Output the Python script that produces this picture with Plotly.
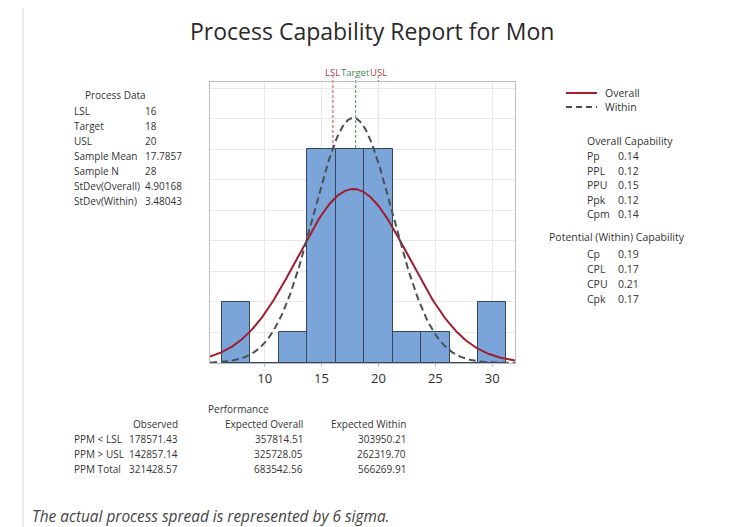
import numpy as np
import plotly.graph_objects as go

# ---------------- data ----------------
bin_centers = [7.5, 10, 12.5, 15, 17.5, 20, 22.5, 25, 27.5, 30]
bin_counts = [2, 0, 1, 7, 7, 7, 1, 1, 0, 2]
bin_width = 2.5

LSL, TARGET, USL = 16, 18, 20
sample_mean = 17.7857
sample_n = 28
sd_overall = 4.90168
sd_within = 3.48043

process_labels = ["LSL", "Target", "USL", "Sample Mean", "Sample N", "StDev(Overall)", "StDev(Within)"]
process_values = ["16", "18", "20", "17.7857", "28", "4.90168", "3.48043"]

overall_cap_labels = ["Pp", "PPL", "PPU", "Ppk", "Cpm"]
overall_cap_values = ["0.14", "0.12", "0.15", "0.12", "0.14"]
within_cap_labels = ["Cp", "CPL", "CPU", "Cpk"]
within_cap_values = ["0.19", "0.17", "0.21", "0.17"]

perf_rows = ["PPM < LSL", "PPM > USL", "PPM Total"]
perf_observed = ["178571.43", "142857.14", "321428.57"]
perf_exp_overall = ["357814.51", "325728.05", "683542.56"]
perf_exp_within = ["303950.21", "262319.70", "566269.91"]

x_ticks = [10, 15, 20, 25, 30]

# ---------------- layout helpers ----------------
OFF = 8  # page body margin
W, H = 729 - OFF, 527 - OFF
FONT = "Open Sans"
TXT = "#333333"
FS = 10
FS_R = 10.5
RED = "#a01d2e"
GREY = "#4a5058"


def px(x):
    return (x - OFF) / W


def py(y):
    return 1 - (y - OFF) / H


annotations = []


def text(x, y, s, anchor="left", size=FS, color=TXT, **kw):
    annotations.append(dict(
        x=px(x), y=py(y), xref="paper", yref="paper", text=s, showarrow=False,
        xanchor=anchor, yanchor="middle", font=dict(family=FONT, size=size, color=color), **kw))


# ---------------- figure ----------------
fig = go.Figure()

fig.add_trace(go.Bar(
    x=bin_centers, y=bin_counts, width=bin_width,
    marker=dict(color="#7ba5d8", line=dict(color="#34465e", width=1)),
    showlegend=False, hoverinfo="skip"))

xs = np.linspace(5.2, 32.0, 300)
scale = sample_n * bin_width


def normal_curve(mu, sd):
    return scale * np.exp(-0.5 * ((xs - mu) / sd) ** 2) / (sd * np.sqrt(2 * np.pi))


fig.add_trace(go.Scatter(
    x=xs, y=normal_curve(sample_mean, sd_overall), mode="lines", name="Overall",
    line=dict(color=RED, width=2), showlegend=False))
fig.add_trace(go.Scatter(
    x=xs, y=normal_curve(sample_mean, sd_within), mode="lines", name="Within",
    line=dict(color=GREY, width=2, dash="7px,4px"), showlegend=False))

# spec lines
for val, col in [(LSL, "#d0443f"), (TARGET, "#3a9a55"), (USL, "#d0443f")]:
    fig.add_shape(type="line", x0=val, x1=val, xref="x", yref="y domain", y0=0, y1=1.02,
                  line=dict(color=col, width=1, dash="3px,2px"), layer="below")

for val, lab, col in [(LSL, "LSL", "#b23a48"), (USL, "USL", "#b23a48"), (TARGET, "Target", "#3a8a50")]:
    annotations.append(dict(x=val, y=1.005, xref="x", yref="y domain", text=lab, showarrow=False,
                            xanchor="center", yanchor="bottom",
                            font=dict(family=FONT, size=9.5, color=col)))

# frame around report
frame_col = "#e4e4e4"
fig.add_shape(type="line", xref="paper", yref="paper", x0=px(23), x1=px(23), y0=0, y1=py(5),
              line=dict(color=frame_col, width=1.5))
fig.add_shape(type="line", xref="paper", yref="paper", x0=px(722), x1=px(722), y0=0, y1=py(5),
              line=dict(color=frame_col, width=1.5))
fig.add_shape(type="line", xref="paper", yref="paper", x0=px(23), x1=px(722), y0=py(5), y1=py(5),
              line=dict(color=frame_col, width=1.5))

# legend (drawn manually for tight spacing)
fig.add_shape(type="line", xref="paper", yref="paper", x0=px(566), x1=px(597), y0=py(93), y1=py(93),
              line=dict(color=RED, width=2))
fig.add_shape(type="line", xref="paper", yref="paper", x0=px(566), x1=px(597), y0=py(107), y1=py(107),
              line=dict(color=GREY, width=2, dash="6px,4px"))
text(603, 93, "Overall", size=FS_R)
text(603, 107, "Within", size=FS_R)

# title
text(372, 31, "Process Capability Report for Mon", anchor="center", size=23, color="#2a2a2a")

# process data
text(116, 95, "Process Data", anchor="center")
for i, (lab, val) in enumerate(zip(process_labels, process_values)):
    y = 111 + i * 15
    text(72, y, lab)
    text(143, y, val)

# capability
text(630, 141, "Overall Capability", anchor="center", size=FS_R)
for i, (lab, val) in enumerate(zip(overall_cap_labels, overall_cap_values)):
    y = 156 + i * 14.6
    text(585, y, lab, size=FS_R)
    text(616, y, val, size=FS_R)
text(617, 237, "Potential (Within) Capability", anchor="center", size=FS_R)
for i, (lab, val) in enumerate(zip(within_cap_labels, within_cap_values)):
    y = 254 + i * 15
    text(585, y, lab, size=FS_R)
    text(616, y, val, size=FS_R)

# performance
text(238, 409, "Performance", anchor="center")
text(180, 424, "Observed", anchor="right")
text(305, 424, "Expected Overall", anchor="right")
text(408, 424, "Expected Within", anchor="right")
for i, lab in enumerate(perf_rows):
    y = 439 + i * 15
    text(72, y, lab)
    text(180, y, perf_observed[i], anchor="right")
    text(305, y, perf_exp_overall[i], anchor="right")
    text(408, y, perf_exp_within[i], anchor="right")

# footnote
annotations.append(dict(x=px(30), y=py(516), xref="paper", yref="paper",
                        text="<i>The actual process spread is represented by 6 sigma.</i>",
                        showarrow=False, xanchor="left", yanchor="middle",
                        font=dict(family=FONT, size=15.4, color="#444444")))

fig.update_layout(
    width=W, height=H,
    margin=dict(l=0, r=0, t=0, b=0, autoexpand=False),
    paper_bgcolor="white", plot_bgcolor="white",
    bargap=0, showlegend=False,
    font=dict(family=FONT, color=TXT),
    xaxis=dict(domain=[px(210), px(515)], range=[5.2, 32.0], tickvals=x_ticks,
               ticktext=[str(t) for t in x_ticks],
               showgrid=True, gridcolor="#e8e8e8", gridwidth=1, zeroline=False,
               showline=True, linecolor="#bdbdbd", mirror=True,
               ticks="outside", ticklen=3, tickcolor="#bdbdbd",
               tickfont=dict(family=FONT, size=13, color="#2e2e2e")),
    yaxis=dict(domain=[py(363), py(82)], range=[0, 9.2], dtick=1,
               showgrid=True, gridcolor="#e8e8e8", gridwidth=1, zeroline=False,
               showticklabels=False, showline=True, linecolor="#bdbdbd", mirror=True, ticks=""),
    annotations=annotations,
)

fig.write_html("out.html")
